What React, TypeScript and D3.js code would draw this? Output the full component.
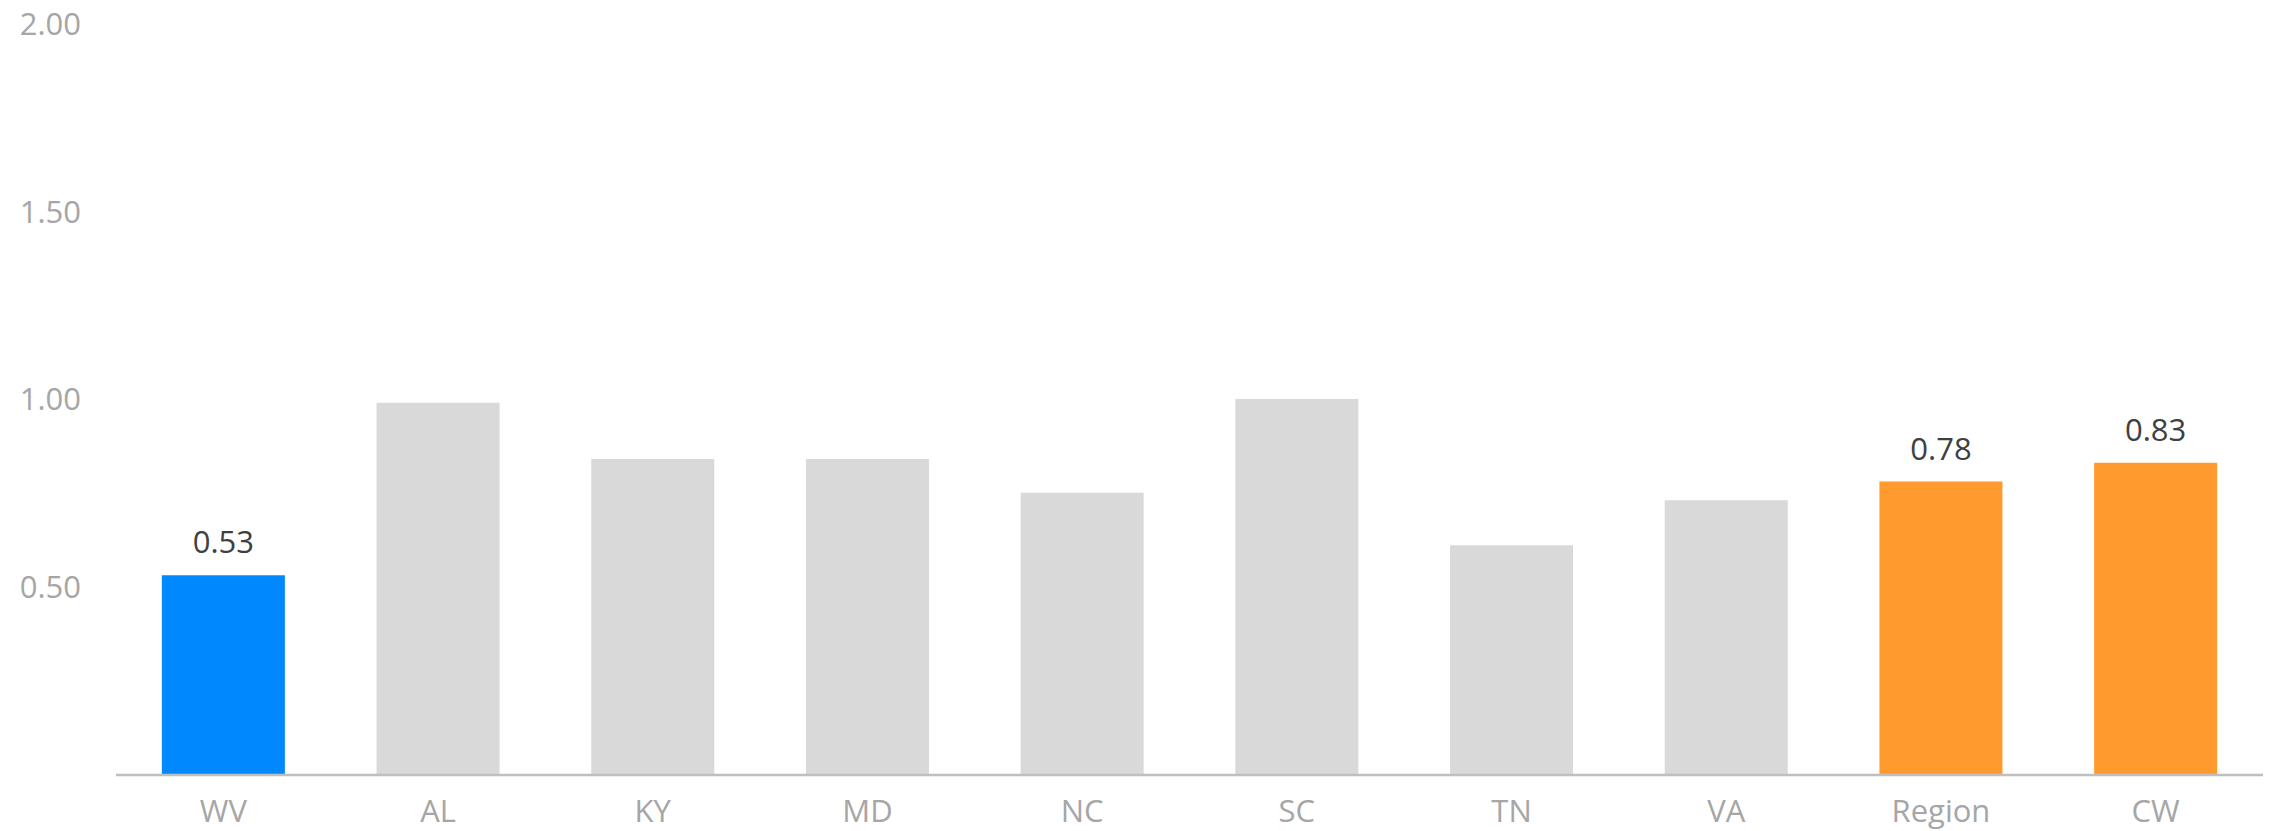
import React from "react";
import * as d3 from "d3";

const categories = ["WV", "AL", "KY", "MD", "NC", "SC", "TN", "VA", "Region", "CW"];
const values = [0.53, 0.99, 0.84, 0.84, 0.75, 1.0, 0.61, 0.73, 0.78, 0.83];
const labelled = ["WV", "Region", "CW"];
const yTicks = [0.5, 1.0, 1.5, 2.0];

const WIDTH = 2272;
const HEIGHT = 831;
const FONT = "'Open Sans', 'Noto Sans', sans-serif";

function barColor(cat: string): string {
  if (cat === "WV") return "#0089FF";
  if (cat === "Region" || cat === "CW") return "#FF9B2E";
  return "#D9D9D9";
}

export default function App() {
  const x = d3
    .scaleBand<string>()
    .domain(categories)
    .range([116, 2263])
    .paddingInner(0.427)
    .paddingOuter(0.2135);
  const y = d3.scaleLinear().domain([0, 2]).range([774, 24]);

  return (
    <svg
      width={WIDTH}
      height={HEIGHT}
      style={{ position: "absolute", left: 0, top: 0, background: "#fff" }}
    >
      {/* value axis labels */}
      {yTicks.map((t) => (
        <text
          key={t}
          x={81}
          y={y(t)}
          dy="0.36em"
          textAnchor="end"
          fontFamily={FONT}
          fontSize={31}
          fill="#A6A6A6"
        >
          {d3.format(".2f")(t)}
        </text>
      ))}

      {/* bars */}
      {categories.map((c, i) => (
        <rect
          key={c}
          x={x(c)}
          y={y(values[i])}
          width={x.bandwidth()}
          height={y(0) - y(values[i])}
          fill={barColor(c)}
        />
      ))}

      {/* data labels */}
      {categories.map((c, i) =>
        labelled.includes(c) ? (
          <text
            key={c}
            x={(x(c) as number) + x.bandwidth() / 2}
            y={y(values[i]) - 22}
            textAnchor="middle"
            fontFamily={FONT}
            fontSize={31}
            fill="#404040"
          >
            {d3.format(".2f")(values[i])}
          </text>
        ) : null
      )}

      {/* category axis */}
      <line x1={116} x2={2263} y1={y(0) + 1} y2={y(0) + 1} stroke="#BFBFBF" strokeWidth={2.5} />
      {categories.map((c) => (
        <text
          key={c}
          x={(x(c) as number) + x.bandwidth() / 2}
          y={822}
          textAnchor="middle"
          fontFamily={FONT}
          fontSize={31}
          fill="#A6A6A6"
        >
          {c}
        </text>
      ))}
    </svg>
  );
}
